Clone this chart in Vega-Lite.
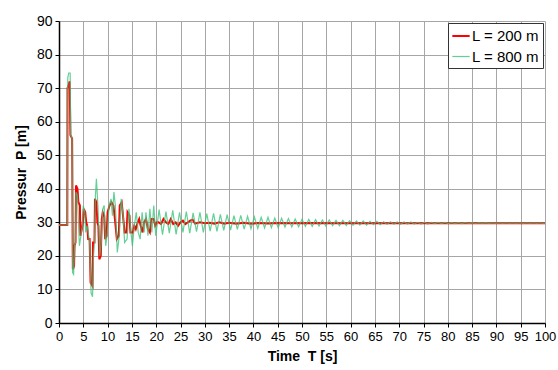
{
  "$schema": "https://vega.github.io/schema/vega-lite/v6.json",
  "width": 486,
  "height": 302,
  "autosize": {"type": "none"},
  "padding": {"left": 59, "top": 21, "right": 13, "bottom": 47},
  "background": "white",
  "config": {
    "font": "Liberation Sans",
    "view": {"stroke": null},
    "axis": {
      "domainColor": "black", "domainWidth": 1.5, "tickColor": "black", "tickSize": 4,
      "gridColor": "#a6a6a6", "gridWidth": 1, "labelFont": "Liberation Sans", "labelFontSize": 13,
      "labelColor": "black", "titleFont": "Liberation Sans", "titleFontSize": 14, "titleFontWeight": "bold", "titleColor": "black",
      "labelOverlap": false, "labelBound": false, "labelFlush": false
    },
    "legend": {
      "orient": "top-right", "offset": 2, "strokeColor": "#333", "fillColor": "white", "padding": 3,
      "labelFontSize": 15, "labelFont": "Liberation Sans", "labelColor": "black", "symbolType": "stroke", "symbolSize": 300,
      "rowPadding": 3, "title": null, "labelOffset": 1
    }
  },
  "data": {"values": [
    {"t":0,"p":29.2,"s":"L = 200 m"},{"t":1.7,"p":29.2,"s":"L = 200 m"},{"t":1.75,"p":70,"s":"L = 200 m"},{"t":2.0,"p":71,"s":"L = 200 m"},{"t":2.2,"p":72,"s":"L = 200 m"},{"t":2.35,"p":56,"s":"L = 200 m"},{"t":2.7,"p":55,"s":"L = 200 m"},{"t":2.85,"p":16,"s":"L = 200 m"},{"t":3.1,"p":17,"s":"L = 200 m"},{"t":3.2,"p":23,"s":"L = 200 m"},{"t":3.4,"p":24,"s":"L = 200 m"},{"t":3.5,"p":41,"s":"L = 200 m"},{"t":3.8,"p":40,"s":"L = 200 m"},{"t":4.0,"p":36,"s":"L = 200 m"},{"t":4.3,"p":35,"s":"L = 200 m"},{"t":4.4,"p":26,"s":"L = 200 m"},{"t":4.7,"p":28,"s":"L = 200 m"},{"t":4.9,"p":30,"s":"L = 200 m"},{"t":5.1,"p":34,"s":"L = 200 m"},{"t":5.4,"p":33,"s":"L = 200 m"},{"t":5.6,"p":30,"s":"L = 200 m"},{"t":5.8,"p":29,"s":"L = 200 m"},{"t":6.0,"p":25,"s":"L = 200 m"},{"t":6.3,"p":25,"s":"L = 200 m"},{"t":6.5,"p":12,"s":"L = 200 m"},{"t":6.9,"p":11,"s":"L = 200 m"},{"t":7.0,"p":24,"s":"L = 200 m"},{"t":7.3,"p":24,"s":"L = 200 m"},{"t":7.4,"p":37,"s":"L = 200 m"},{"t":7.7,"p":36,"s":"L = 200 m"},{"t":7.9,"p":30,"s":"L = 200 m"},{"t":8.1,"p":29,"s":"L = 200 m"},{"t":8.3,"p":19,"s":"L = 200 m"},{"t":8.6,"p":20,"s":"L = 200 m"},{"t":8.8,"p":31,"s":"L = 200 m"},{"t":9.0,"p":33,"s":"L = 200 m"},{"t":9.3,"p":32,"s":"L = 200 m"},{"t":9.5,"p":25,"s":"L = 200 m"},{"t":9.8,"p":26,"s":"L = 200 m"},{"t":10.0,"p":33,"s":"L = 200 m"},{"t":10.4,"p":35,"s":"L = 200 m"},{"t":10.8,"p":36,"s":"L = 200 m"},{"t":11.2,"p":35,"s":"L = 200 m"},{"t":11.5,"p":31,"s":"L = 200 m"},{"t":11.9,"p":25,"s":"L = 200 m"},{"t":12.3,"p":26,"s":"L = 200 m"},{"t":12.5,"p":35,"s":"L = 200 m"},{"t":12.9,"p":36,"s":"L = 200 m"},{"t":13.3,"p":30,"s":"L = 200 m"},{"t":13.5,"p":27,"s":"L = 200 m"},{"t":13.9,"p":27,"s":"L = 200 m"},{"t":14.1,"p":33,"s":"L = 200 m"},{"t":14.5,"p":32,"s":"L = 200 m"},{"t":14.7,"p":27,"s":"L = 200 m"},{"t":15.2,"p":27,"s":"L = 200 m"},{"t":15.5,"p":29,"s":"L = 200 m"},{"t":15.8,"p":28,"s":"L = 200 m"},{"t":16.2,"p":30,"s":"L = 200 m"},{"t":16.5,"p":31,"s":"L = 200 m"},{"t":16.8,"p":29,"s":"L = 200 m"},{"t":17.2,"p":27,"s":"L = 200 m"},{"t":17.5,"p":30,"s":"L = 200 m"},{"t":17.9,"p":31,"s":"L = 200 m"},{"t":18.3,"p":28,"s":"L = 200 m"},{"t":18.7,"p":27,"s":"L = 200 m"},{"t":19.0,"p":31,"s":"L = 200 m"},{"t":19.5,"p":31,"s":"L = 200 m"},{"t":19.8,"p":29,"s":"L = 200 m"},{"t":20.2,"p":30,"s":"L = 200 m"},{"t":20.5,"p":30,"s":"L = 200 m"},{"t":21,"p":29.5,"s":"L = 200 m"},{"t":21.5,"p":31,"s":"L = 200 m"},{"t":22,"p":30,"s":"L = 200 m"},{"t":22.5,"p":29.5,"s":"L = 200 m"},{"t":23,"p":31,"s":"L = 200 m"},{"t":23.5,"p":29.5,"s":"L = 200 m"},{"t":24,"p":30,"s":"L = 200 m"},{"t":24.5,"p":29,"s":"L = 200 m"},{"t":25,"p":30,"s":"L = 200 m"},{"t":25.5,"p":30.5,"s":"L = 200 m"},{"t":26,"p":29.5,"s":"L = 200 m"},{"t":27,"p":30.5,"s":"L = 200 m"},{"t":27.5,"p":30.8,"s":"L = 200 m"},{"t":28,"p":29.6,"s":"L = 200 m"},{"t":29,"p":30,"s":"L = 200 m"},{"t":30,"p":29.7,"s":"L = 200 m"},{"t":31,"p":29.9,"s":"L = 200 m"},{"t":32,"p":29.6,"s":"L = 200 m"},{"t":33,"p":30.0,"s":"L = 200 m"},{"t":34,"p":29.6,"s":"L = 200 m"},{"t":35,"p":29.9,"s":"L = 200 m"},{"t":36.5,"p":29.6,"s":"L = 200 m"},{"t":38,"p":29.9,"s":"L = 200 m"},{"t":39.5,"p":29.6,"s":"L = 200 m"},{"t":41,"p":29.8,"s":"L = 200 m"},{"t":43,"p":29.65,"s":"L = 200 m"},{"t":45,"p":29.8,"s":"L = 200 m"},{"t":48,"p":29.7,"s":"L = 200 m"},{"t":52,"p":29.8,"s":"L = 200 m"},{"t":56,"p":29.7,"s":"L = 200 m"},{"t":60,"p":29.75,"s":"L = 200 m"},{"t":100,"p":29.75,"s":"L = 200 m"},
    {"t":0,"p":29.2,"s":"L = 800 m"},{"t":1.75,"p":29.2,"s":"L = 800 m"},{"t":1.8,"p":73,"s":"L = 800 m"},{"t":2.0,"p":74.5,"s":"L = 800 m"},{"t":2.3,"p":74.5,"s":"L = 800 m"},{"t":2.4,"p":56,"s":"L = 800 m"},{"t":2.7,"p":55,"s":"L = 800 m"},{"t":2.8,"p":15,"s":"L = 800 m"},{"t":3.0,"p":14.5,"s":"L = 800 m"},{"t":3.2,"p":23,"s":"L = 800 m"},{"t":3.4,"p":24,"s":"L = 800 m"},{"t":3.5,"p":39,"s":"L = 800 m"},{"t":3.8,"p":38,"s":"L = 800 m"},{"t":4.0,"p":30,"s":"L = 800 m"},{"t":4.2,"p":23,"s":"L = 800 m"},{"t":4.5,"p":26,"s":"L = 800 m"},{"t":4.8,"p":29,"s":"L = 800 m"},{"t":5.0,"p":35,"s":"L = 800 m"},{"t":5.3,"p":33,"s":"L = 800 m"},{"t":5.5,"p":27,"s":"L = 800 m"},{"t":5.8,"p":29,"s":"L = 800 m"},{"t":6.0,"p":27,"s":"L = 800 m"},{"t":6.3,"p":24,"s":"L = 800 m"},{"t":6.6,"p":9,"s":"L = 800 m"},{"t":6.9,"p":7.8,"s":"L = 800 m"},{"t":7.1,"p":20,"s":"L = 800 m"},{"t":7.3,"p":24,"s":"L = 800 m"},{"t":7.5,"p":38,"s":"L = 800 m"},{"t":7.7,"p":43,"s":"L = 800 m"},{"t":8.0,"p":35,"s":"L = 800 m"},{"t":8.2,"p":28,"s":"L = 800 m"},{"t":8.4,"p":20,"s":"L = 800 m"},{"t":8.7,"p":24,"s":"L = 800 m"},{"t":9.0,"p":34,"s":"L = 800 m"},{"t":9.3,"p":35,"s":"L = 800 m"},{"t":9.6,"p":23,"s":"L = 800 m"},{"t":9.9,"p":26,"s":"L = 800 m"},{"t":10.3,"p":35,"s":"L = 800 m"},{"t":10.7,"p":37,"s":"L = 800 m"},{"t":11.0,"p":32,"s":"L = 800 m"},{"t":11.3,"p":39,"s":"L = 800 m"},{"t":11.6,"p":35,"s":"L = 800 m"},{"t":12.0,"p":21,"s":"L = 800 m"},{"t":12.4,"p":26,"s":"L = 800 m"},{"t":12.8,"p":37,"s":"L = 800 m"},{"t":13.2,"p":32,"s":"L = 800 m"},{"t":13.5,"p":24,"s":"L = 800 m"},{"t":14.0,"p":25,"s":"L = 800 m"},{"t":14.4,"p":34,"s":"L = 800 m"},{"t":14.8,"p":27,"s":"L = 800 m"},{"t":15.1,"p":23,"s":"L = 800 m"},{"t":15.5,"p":29,"s":"L = 800 m"},{"t":15.9,"p":33,"s":"L = 800 m"},{"t":16.3,"p":27,"s":"L = 800 m"},{"t":16.7,"p":25,"s":"L = 800 m"},{"t":17.1,"p":33,"s":"L = 800 m"},{"t":17.5,"p":27,"s":"L = 800 m"},{"t":17.9,"p":33,"s":"L = 800 m"},{"t":18.3,"p":26,"s":"L = 800 m"},{"t":18.7,"p":34,"s":"L = 800 m"},{"t":19.1,"p":27,"s":"L = 800 m"},{"t":19.5,"p":35,"s":"L = 800 m"},{"t":19.9,"p":26,"s":"L = 800 m"},
    {"t":20.6,"p":33.8,"s":"L = 800 m"},{"t":21.3,"p":26.3,"s":"L = 800 m"},{"t":22.0,"p":33.2,"s":"L = 800 m"},{"t":22.7,"p":26.8,"s":"L = 800 m"},{"t":23.4,"p":33.6,"s":"L = 800 m"},{"t":24.1,"p":26.4,"s":"L = 800 m"},{"t":24.8,"p":33.0,"s":"L = 800 m"},{"t":25.5,"p":27.0,"s":"L = 800 m"},{"t":26.2,"p":33.2,"s":"L = 800 m"},{"t":26.9,"p":26.8,"s":"L = 800 m"},{"t":27.6,"p":32.8,"s":"L = 800 m"},{"t":28.3,"p":27.2,"s":"L = 800 m"},{"t":29.0,"p":33.0,"s":"L = 800 m"},{"t":29.7,"p":27.0,"s":"L = 800 m"},{"t":30.4,"p":32.6,"s":"L = 800 m"},{"t":31.1,"p":27.4,"s":"L = 800 m"},{"t":31.8,"p":32.7,"s":"L = 800 m"},{"t":32.5,"p":27.3,"s":"L = 800 m"},{"t":33.2,"p":32.4,"s":"L = 800 m"},{"t":33.9,"p":27.6,"s":"L = 800 m"},{"t":34.6,"p":32.3,"s":"L = 800 m"},{"t":35.3,"p":27.7,"s":"L = 800 m"},{"t":36.0,"p":32.0,"s":"L = 800 m"},{"t":36.7,"p":27.9,"s":"L = 800 m"},{"t":37.4,"p":32.1,"s":"L = 800 m"},{"t":38.1,"p":28.0,"s":"L = 800 m"},{"t":38.8,"p":31.8,"s":"L = 800 m"},{"t":39.5,"p":28.1,"s":"L = 800 m"},{"t":40.2,"p":31.6,"s":"L = 800 m"},{"t":40.9,"p":28.2,"s":"L = 800 m"},{"t":41.6,"p":31.5,"s":"L = 800 m"},{"t":42.3,"p":28.3,"s":"L = 800 m"},{"t":43.0,"p":31.5,"s":"L = 800 m"},{"t":43.7,"p":28.4,"s":"L = 800 m"},{"t":44.4,"p":31.3,"s":"L = 800 m"},{"t":45.1,"p":28.4,"s":"L = 800 m"},{"t":45.8,"p":31.2,"s":"L = 800 m"},{"t":46.5,"p":28.6,"s":"L = 800 m"},{"t":47.2,"p":31.1,"s":"L = 800 m"},{"t":47.9,"p":28.6,"s":"L = 800 m"},{"t":48.6,"p":31.0,"s":"L = 800 m"},{"t":49.3,"p":28.7,"s":"L = 800 m"},{"t":50.0,"p":30.9,"s":"L = 800 m"},{"t":50.7,"p":28.8,"s":"L = 800 m"},{"t":51.4,"p":30.9,"s":"L = 800 m"},{"t":52.1,"p":28.8,"s":"L = 800 m"},{"t":52.8,"p":30.8,"s":"L = 800 m"},{"t":53.5,"p":28.9,"s":"L = 800 m"},{"t":54.2,"p":30.7,"s":"L = 800 m"},{"t":54.9,"p":28.9,"s":"L = 800 m"},{"t":55.6,"p":30.7,"s":"L = 800 m"},{"t":56.3,"p":29.0,"s":"L = 800 m"},{"t":57.0,"p":30.6,"s":"L = 800 m"},{"t":57.7,"p":29.0,"s":"L = 800 m"},{"t":58.4,"p":30.6,"s":"L = 800 m"},{"t":59.1,"p":29.1,"s":"L = 800 m"},{"t":59.8,"p":30.5,"s":"L = 800 m"},{"t":60.5,"p":29.1,"s":"L = 800 m"},{"t":61.2,"p":30.4,"s":"L = 800 m"},{"t":61.9,"p":29.2,"s":"L = 800 m"},{"t":62.6,"p":30.4,"s":"L = 800 m"},{"t":63.3,"p":29.2,"s":"L = 800 m"},{"t":64.0,"p":30.3,"s":"L = 800 m"},{"t":64.7,"p":29.3,"s":"L = 800 m"},{"t":65.4,"p":30.3,"s":"L = 800 m"},{"t":66.1,"p":29.3,"s":"L = 800 m"},{"t":66.8,"p":30.2,"s":"L = 800 m"},{"t":67.5,"p":29.4,"s":"L = 800 m"},{"t":68.2,"p":30.2,"s":"L = 800 m"},{"t":68.9,"p":29.4,"s":"L = 800 m"},{"t":69.6,"p":30.1,"s":"L = 800 m"},{"t":70.3,"p":29.4,"s":"L = 800 m"},{"t":71.0,"p":30.1,"s":"L = 800 m"},{"t":71.7,"p":29.5,"s":"L = 800 m"},{"t":72.4,"p":30.1,"s":"L = 800 m"},{"t":73.1,"p":29.5,"s":"L = 800 m"},{"t":73.8,"p":30.0,"s":"L = 800 m"},{"t":74.5,"p":29.5,"s":"L = 800 m"},{"t":75.2,"p":30.0,"s":"L = 800 m"},{"t":75.9,"p":29.5,"s":"L = 800 m"},{"t":76.6,"p":30.0,"s":"L = 800 m"},{"t":77.3,"p":29.6,"s":"L = 800 m"},{"t":78.0,"p":30.0,"s":"L = 800 m"},{"t":78.7,"p":29.6,"s":"L = 800 m"},{"t":79.4,"p":29.95,"s":"L = 800 m"},{"t":80.1,"p":29.6,"s":"L = 800 m"},{"t":80.8,"p":29.9,"s":"L = 800 m"},{"t":81.5,"p":29.6,"s":"L = 800 m"},{"t":82.2,"p":29.9,"s":"L = 800 m"},{"t":82.9,"p":29.65,"s":"L = 800 m"},{"t":83.6,"p":29.9,"s":"L = 800 m"},{"t":84.3,"p":29.65,"s":"L = 800 m"},{"t":85.0,"p":29.85,"s":"L = 800 m"},{"t":85.7,"p":29.65,"s":"L = 800 m"},{"t":86.4,"p":29.85,"s":"L = 800 m"},{"t":87.1,"p":29.7,"s":"L = 800 m"},{"t":87.8,"p":29.85,"s":"L = 800 m"},{"t":88.5,"p":29.7,"s":"L = 800 m"},{"t":89.2,"p":29.8,"s":"L = 800 m"},{"t":89.9,"p":29.7,"s":"L = 800 m"},{"t":90.6,"p":29.8,"s":"L = 800 m"},{"t":91.3,"p":29.7,"s":"L = 800 m"},{"t":92.0,"p":29.8,"s":"L = 800 m"},{"t":92.7,"p":29.7,"s":"L = 800 m"},{"t":93.4,"p":29.8,"s":"L = 800 m"},{"t":94.1,"p":29.7,"s":"L = 800 m"},{"t":94.8,"p":29.8,"s":"L = 800 m"},{"t":95.5,"p":29.7,"s":"L = 800 m"},{"t":96.2,"p":29.8,"s":"L = 800 m"},{"t":96.9,"p":29.7,"s":"L = 800 m"},{"t":97.6,"p":29.8,"s":"L = 800 m"},{"t":98.3,"p":29.7,"s":"L = 800 m"},{"t":99.0,"p":29.8,"s":"L = 800 m"},{"t":99.7,"p":29.7,"s":"L = 800 m"},{"t":100,"p":29.75,"s":"L = 800 m"}
  ]},
  "mark": {"type": "line", "clip": true, "strokeJoin": "miter"},
  "encoding": {
    "x": {"field": "t", "type": "quantitative", "scale": {"domain": [0, 100], "nice": false},
          "axis": {"values": [0,5,10,15,20,25,30,35,40,45,50,55,60,65,70,75,80,85,90,95,100], "title": "Time\u00a0\u00a0T [s]", "titlePadding": 6, "labelPadding": 3}},
    "y": {"field": "p", "type": "quantitative", "scale": {"domain": [0, 90], "nice": false},
          "axis": {"values": [0,10,20,30,40,50,60,70,80,90], "title": "Pressur\u00a0\u00a0P [m]", "titlePadding": 8, "labelPadding": 3, "labelFontSize": 14}},
    "color": {"field": "s", "type": "nominal", "scale": {"domain": ["L = 200 m", "L = 800 m"], "range": ["#ff0000", "#3cc47a"]}, "legend": {}},
    "strokeWidth": {"field": "s", "type": "nominal", "scale": {"domain": ["L = 200 m", "L = 800 m"], "range": [2, 1.2]}},
    "opacity": {"field": "s", "type": "nominal", "scale": {"domain": ["L = 200 m", "L = 800 m"], "range": [1, 0.8]}},
    "order": {"field": "t", "type": "quantitative"}
  }
}
